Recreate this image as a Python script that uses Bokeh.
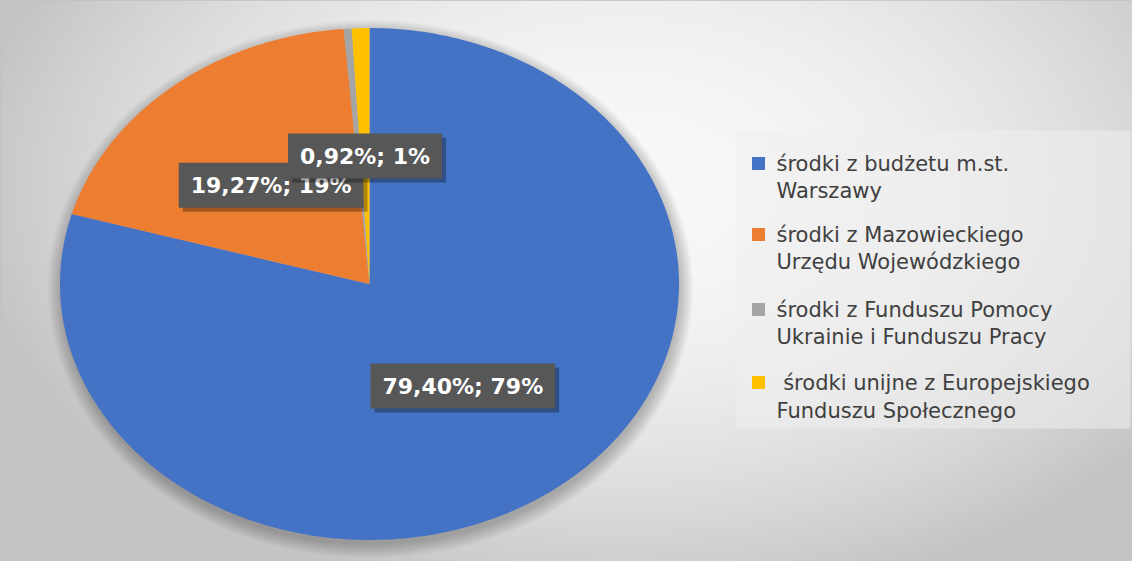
import numpy as np
from bokeh.plotting import figure
from bokeh.models import Range1d
from bokeh.core.properties import value
from bokeh.embed import file_html
from bokeh.resources import INLINE

# ---- data ----
categories = [
    "środki z budżetu m.st. Warszawy",
    "środki z Mazowieckiego Urzędu Wojewódzkiego",
    "środki z Funduszu Pomocy Ukrainie i Funduszu Pracy",
    " środki unijne z Europejskiego Funduszu Społecznego",
]
legend_line1 = ["środki z budżetu m.st.", "środki z Mazowieckiego",
                "środki z Funduszu Pomocy", "\u00a0środki unijne z Europejskiego"]
legend_line2 = ["Warszawy", "Urzędu Wojewódzkiego",
                "Ukrainie i Funduszu Pracy", "Funduszu Społecznego"]
shares = [79.40, 19.27, 0.41, 0.92]
data_labels = ["79,40%; 79%", "19,27%; 19%", "", "0,92%; 1%"]
colors = ["#4472C4", "#ED7D31", "#A5A5A5", "#FFC000"]

W, H = 1132, 561

p = figure(width=W, height=H, output_backend="svg", toolbar_location=None,
           x_range=Range1d(0, W), y_range=Range1d(0, H),
           x_axis_location=None, y_axis_location=None, min_border=0)
p.grid.visible = False
p.outline_line_color = "#c0c0c0"
p.background_fill_color = "#dcdcdc"
p.border_fill_color = "white"

# background radial gradient
ny_, nx_ = 140, 283
gx = np.linspace(0, W, nx_)
gy = np.linspace(0, H, ny_)
GX, GY = np.meshgrid(gx, gy)
nx = (GX - 0.55 * W) / (0.6 * W)
nyv = ((H - GY) - 0.33 * H) / (0.78 * H)
r2 = nx ** 2 + nyv ** 2
g = np.clip(248 - 55 * r2, 196, 248).astype(np.uint32)
img = (255 << 24) | (g << 16) | (g << 8) | g
p.image_rgba(image=[img.astype(np.uint32)], x=0, y=0, dw=W, dh=H)

def Y(ypix):
    return H - ypix

# pie geometry (screen-like pixel coordinates)
cx, cy = 369.0, 283.5
rx, ry = 309.5, 256.0

# soft shadow
for k in range(12):
    p.ellipse(x=cx + 1, y=Y(cy + 5), width=2 * (rx + 1.2 * k), height=2 * (ry + 1.2 * k),
              fill_color="black", fill_alpha=0.02, line_color=None)

total = sum(shares)
xs, ys, mids = [], [], []
start = 0.0
for s in shares:
    a0 = start / total * 2 * np.pi
    a1 = (start + s) / total * 2 * np.pi
    t = np.linspace(a0, a1, max(4, int(400 * s / total)))
    px = np.concatenate([[cx], cx + rx * np.sin(t)])
    py = np.concatenate([[cy], cy - ry * np.cos(t)])
    xs.append(list(px))
    ys.append(list(Y(py)))
    mids.append((a0 + a1) / 2)
    start += s
p.patches(xs, ys, fill_color=colors, line_color=None)

# data labels
lx, ly, lt = [], [], []
for i in [0, 1, 3]:
    m = mids[i]
    lx.append(cx + 0.5 * rx * np.sin(m))
    ly.append(Y(cy - 0.5 * ry * np.cos(m)))
    lt.append(data_labels[i])
for x, y, t in zip(lx, ly, lt):
    p.text(x=[x + 4], y=[y - 4], text=[t], text_alpha=0,
           text_font=value("DejaVu Sans"), text_font_size="22px", text_font_style="bold",
           text_align="center", text_baseline="middle",
           background_fill_color="black", background_fill_alpha=0.3, padding=(12, 10))
    p.text(x=[x], y=[y], text=[t], text_color="white",
           text_font=value("DejaVu Sans"), text_font_size="22px", text_font_style="bold",
           text_align="center", text_baseline="middle",
           background_fill_color="#575757", padding=(12, 10))

# legend
p.quad(left=[736], right=[1130], top=[Y(130)], bottom=[Y(428)],
       fill_color="#efefef", fill_alpha=0.55, line_color=None)
item_y1 = [163, 234, 309, 382]
item_y2 = [190, 261, 336, 410]
p.scatter(x=[758] * 4, y=[Y(v) for v in item_y1], marker="square", size=13,
          fill_color=colors, line_color=None)
p.text(x=[776] * 4, y=[Y(v) for v in item_y1], text=legend_line1,
       text_color="#404040", text_font=value("DejaVu Sans"), text_font_size="21px",
       text_baseline="middle")
p.text(x=[776] * 4, y=[Y(v) for v in item_y2], text=legend_line2,
       text_color="#404040", text_font=value("DejaVu Sans"), text_font_size="21px",
       text_baseline="middle")

open("out.html", "w").write(file_html(p, INLINE))
